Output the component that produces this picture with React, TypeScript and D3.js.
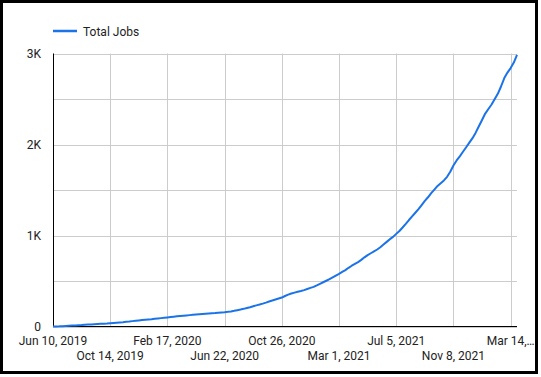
import React from "react";
import * as d3 from "d3";

const seriesName = "Total Jobs";
const startDate = new Date(2019, 5, 10); // Jun 10, 2019, weekly points
const totalJobs = [
  0, 1, 2, 4, 6, 8, 10, 12, 14, 16, 19, 21, 23, 25, 27, 29, 31, 33, 36,
  39, 42, 45, 48, 52, 55, 59, 63, 67, 71, 74, 77, 80, 84, 88, 92, 96, 100,
  104, 108, 112, 116, 119, 122, 125, 128, 131, 134, 137, 140, 143, 146, 148, 151, 154, 157,
  161, 166, 172, 179, 186, 194, 203, 212,
  222, 232, 241, 251, 262, 274, 285, 296, 307, 318,
  335, 350, 362, 372, 381, 390, 400, 412, 424, 436, 452, 469,
  486, 503, 520, 540, 560, 579,
  600, 620, 645, 668, 688, 708, 732,
  760, 785, 805, 825, 846, 871,
  900, 930, 960, 985, 1018,
  1050, 1088, 1128, 1170, 1210,
  1250, 1290, 1335, 1380, 1420, 1465, 1505,
  1545, 1575, 1605, 1645, 1700, 1770, 1825, 1870,
  1920, 1970, 2020, 2070, 2130, 2200, 2270, 2340, 2390, 2440, 2500,
  2560, 2640, 2730, 2790, 2840, 2900, 2985,
];
const xTickDates = [
  new Date(2019, 5, 10),
  new Date(2019, 9, 14),
  new Date(2020, 1, 17),
  new Date(2020, 5, 22),
  new Date(2020, 9, 26),
  new Date(2021, 2, 1),
  new Date(2021, 6, 5),
  new Date(2021, 10, 8),
  new Date(2022, 2, 14),
];
const yTicks = [0, 1000, 2000, 3000];
const yGrid = [0, 500, 1000, 1500, 2000, 2500, 3000];
const yTickLabels = ["0", "1K", "2K", "3K"];

const W = 541;
const H = 377;
const left = 53;
const right = 517;
const top = 53.5;
const bottom = 326.5;
const font = "Roboto, 'Noto Sans', sans-serif";

export default function App() {
  const data = totalJobs.map((v, i) => ({ date: d3.timeDay.offset(startDate, i * 7), v }));
  const x = d3
    .scaleTime()
    .domain([data[0].date, data[data.length - 1].date])
    .range([left, right]);
  const y = d3.scaleLinear().domain([0, 3000]).range([bottom, top]);
  const line = d3
    .line<{ date: Date; v: number }>()
    .x((d) => x(d.date))
    .y((d) => y(d.v))
    .curve(d3.curveLinear);
  const fmt = d3.timeFormat("%b %-d, %Y");

  return (
    <div style={{ position: "fixed", left: 0, top: 0 }}>
      <svg width={W} height={H} style={{ display: "block", fontFamily: font }}>
        <rect x={0} y={0} width={W} height={H} fill="#fff" />
        <rect x={1.5} y={1.5} width={535} height={371} fill="none" stroke="#000" strokeWidth={3} />
        {/* legend */}
        <line x1={53} x2={77} y1={31} y2={31} stroke="#1a73e8" strokeWidth={2.5} />
        <text x={83} y={35.5} fontSize={12} fill="#222">
          {seriesName}
        </text>
        {/* gridlines */}
        {yGrid.map((t) => (
          <line key={"h" + t} x1={left} x2={right} y1={Math.round(y(t)) + 0.5} y2={Math.round(y(t)) + 0.5} stroke="#ccc" strokeWidth={1} />
        ))}
        {xTickDates.map((d, i) => (
          <line key={"v" + i} x1={Math.round(x(d)) + 0.5} x2={Math.round(x(d)) + 0.5} y1={top} y2={bottom} stroke="#ccc" strokeWidth={1} />
        ))}
        {/* axes */}
        <line x1={left + 0.5} x2={left + 0.5} y1={top} y2={bottom} stroke="#000" strokeWidth={1} />
        <line x1={left} x2={right} y1={bottom} y2={bottom} stroke="#000" strokeWidth={1} />
        {/* y labels */}
        {yTicks.map((t, i) => (
          <text key={"yl" + t} x={41} y={y(t) + 4.5} fontSize={12} fill="#222" textAnchor="end">
            {yTickLabels[i]}
          </text>
        ))}
        {/* x labels */}
        {xTickDates.map((d, i) => {
          let s = fmt(d);
          if (i === xTickDates.length - 1) s = s.slice(0, 7) + "…";
          return (
            <text key={"xl" + i} x={x(d)} y={i % 2 === 0 ? 344.5 : 359.5} fontSize={12} fill="#222" textAnchor="middle">
              {s}
            </text>
          );
        })}
        {/* line */}
        <path d={line(data) || ""} fill="none" stroke="#1a73e8" strokeWidth={2} strokeLinejoin="round" />
      </svg>
    </div>
  );
}
